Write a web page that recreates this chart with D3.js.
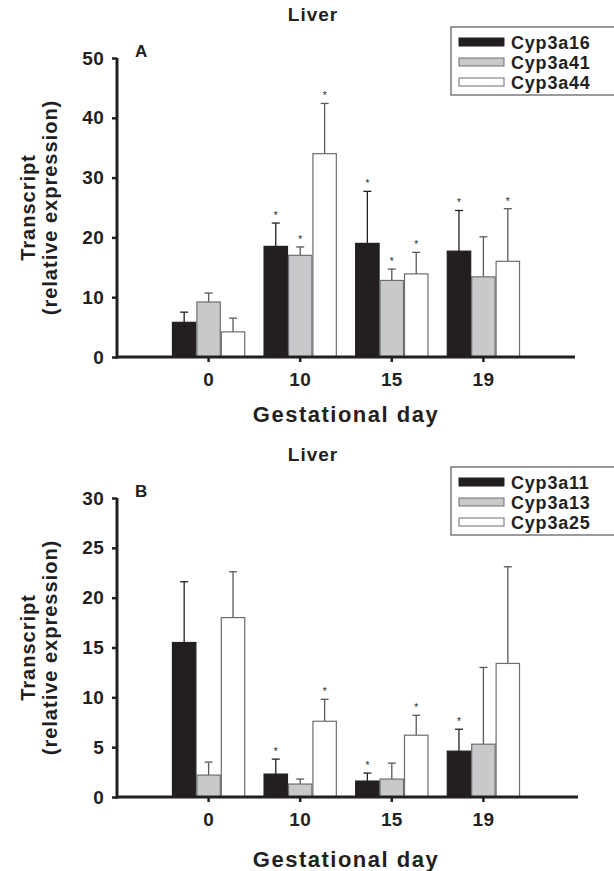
<!DOCTYPE html>
<html lang="en">
<head>
<meta charset="UTF-8">
<title>Liver</title>
<script src="https://d3js.org/d3.v7.min.js"></script>
<style>
  body { margin: 0; background: #fff; }
  text { font-family: "Liberation Sans", Arial, sans-serif; font-weight: bold; fill: #231f20; }
</style>
</head>
<body>
<div id="chart"></div>
<script>
var days = ["0", "10", "15", "19"];

// panel A
var seriesA = ["Cyp3a16", "Cyp3a41", "Cyp3a44"];
var valuesA = [[5.8, 18.5, 19.0, 17.7], [9.2, 17.0, 12.8, 13.4], [4.2, 34.0, 13.9, 16.0]];
var errTopA = [[7.5, 22.4, 27.7, 24.5], [10.7, 18.4, 14.7, 20.1], [6.5, 42.4, 17.5, 24.8]];
var starsA = [[0, 1, 1, 1], [0, 1, 1, 0], [0, 1, 1, 1]];
var ticksA = [0, 10, 20, 30, 40, 50];

// panel B
var seriesB = ["Cyp3a11", "Cyp3a13", "Cyp3a25"];
var valuesB = [[15.5, 2.3, 1.6, 4.6], [2.2, 1.3, 1.8, 5.3], [18.0, 7.6, 6.2, 13.4]];
var errTopB = [[21.6, 3.8, 2.4, 6.8], [3.5, 1.8, 3.4, 13.0], [22.6, 9.8, 8.2, 23.1]];
var starsB = [[0, 1, 1, 1], [0, 0, 0, 0], [0, 1, 1, 0]];
var ticksB = [0, 5, 10, 15, 20, 25, 30];

var w = 614, h = 871;
var fills = ["#231f20", "#c8c9cb", "#ffffff"];
var outlines = ["#231f20", "#6d6e70", "#6d6e70"];

var svg = d3.select("#chart").append("svg")
    .attr("width", w)
    .attr("height", h);

panel({ top: 0, letter: "A", series: seriesA, values: valuesA, err: errTopA, stars: starsA,
        ticks: ticksA, max: 50, y0: 357, y1: 58, right: 575, xt: 65 });
panel({ top: 440, letter: "B", series: seriesB, values: valuesB, err: errTopB, stars: starsB,
        ticks: ticksB, max: 30, y0: 797, y1: 498, right: 578, xt: 70 });

function panel(o) {
    var g = svg.append("g");
    var left = 117, right = o.right;

    var x = d3.scaleBand().domain(days).range([left, 575])
        .paddingInner(0.2).paddingOuter(0.6);
    var xs = d3.scaleBand().domain(o.series).range([0, x.bandwidth()]);
    var y = d3.scaleLinear().domain([0, o.max]).range([o.y0, o.y1]);

    // title
    g.append("text").attr("x", 313).attr("y", o.top + 21)
        .attr("text-anchor", "middle").style("font-size", "19px")
        .style("letter-spacing", "1px").text("Liver");
    g.append("text").attr("x", 135).attr("y", (o.y1 - 1))
        .style("font-size", "17px").text(o.letter);

    // bars
    o.series.forEach(function(s, si) {
        var rows = days.map(function(d, i) {
            return { day: d, v: o.values[si][i], e: o.err[si][i], star: o.stars[si][i] };
        });
        var sg = g.append("g");
        var cx = function(d) { return x(d.day) + xs(s) + xs.bandwidth() / 2; };
        var ec = si == 0 ? "#231f20" : "#58595b";
        // error bars
        sg.selectAll("line.err").data(rows).enter().append("line")
            .attr("x1", cx).attr("x2", cx)
            .attr("y1", function(d) { return y(d.v); })
            .attr("y2", function(d) { return y(d.e); })
            .attr("stroke", ec).attr("stroke-width", 1.3);
        sg.selectAll("line.cap").data(rows).enter().append("line")
            .attr("x1", function(d) { return cx(d) - 4; })
            .attr("x2", function(d) { return cx(d) + 4; })
            .attr("y1", function(d) { return y(d.e); })
            .attr("y2", function(d) { return y(d.e); })
            .attr("stroke", ec).attr("stroke-width", 1.3);
        sg.selectAll("rect").data(rows).enter().append("rect")
            .attr("x", function(d) { return x(d.day) + xs(s) + 0.5; })
            .attr("y", function(d) { return y(d.v); })
            .attr("width", xs.bandwidth() - 1)
            .attr("height", function(d) { return o.y0 - y(d.v); })
            .attr("fill", fills[si])
            .attr("stroke", outlines[si]).attr("stroke-width", 1.2);
        sg.selectAll("text").data(rows.filter(function(d) { return d.star; })).enter().append("text")
            .attr("x", cx)
            .attr("y", function(d) { return y(d.e) - 4; })
            .attr("text-anchor", "middle")
            .style("font-size", "10px").style("font-weight", "normal")
            .style("fill", "#231f20")
            .text("*");
    });

    // axes
    var ya = g.append("g").attr("transform", "translate(" + left + ",0)")
        .call(d3.axisLeft(y).tickValues(o.ticks).tickSize(5).tickPadding(8));
    var xa = g.append("g").attr("transform", "translate(0," + o.y0 + ")")
        .call(d3.axisBottom(x).tickSize(5).tickPadding(11));
    [ya, xa].forEach(function(a) {
        a.select(".domain").remove();
        a.selectAll("line").attr("stroke", "#231f20").attr("stroke-width", 2.5);
        a.selectAll("text").style("font-size", "19px").attr("fill", "#231f20")
            .style("letter-spacing", "0.3px");
    });
    xa.selectAll("text").attr("dy", "0.71em");
    g.append("line").attr("x1", left).attr("x2", left).attr("y1", o.y1).attr("y2", o.y0 + 1.5)
        .attr("stroke", "#231f20").attr("stroke-width", 3);
    g.append("line").attr("x1", left).attr("x2", right).attr("y1", o.y0).attr("y2", o.y0)
        .attr("stroke", "#231f20").attr("stroke-width", 3);

    // axis titles
    g.append("text").attr("x", 346).attr("y", o.y0 + o.xt)
        .attr("text-anchor", "middle").style("font-size", "22px")
        .style("letter-spacing", "1.5px").text("Gestational day");
    var mid = (o.y0 + o.y1) / 2;
    g.append("text").attr("transform", "translate(35," + mid + ") rotate(-90)")
        .attr("text-anchor", "middle").style("font-size", "20px")
        .style("letter-spacing", "1px").text("Transcript");
    g.append("text").attr("transform", "translate(57," + mid + ") rotate(-90)")
        .attr("text-anchor", "middle").style("font-size", "20px")
        .style("letter-spacing", "1px").text("(relative expression)");

    // legend
    var lg = g.append("g").attr("transform", "translate(451," + (o.top + 27) + ")");
    lg.append("rect").attr("x", 0).attr("y", 0).attr("width", 170).attr("height", 68)
        .attr("fill", "none").attr("stroke", "#58595b").attr("stroke-width", 1.2);
    var items = lg.selectAll("g.item").data(o.series).enter().append("g")
        .attr("transform", function(d, i) { return "translate(0," + (15 + i * 20) + ")"; });
    items.append("rect").attr("x", 8).attr("y", -4).attr("width", 45).attr("height", 8)
        .attr("fill", function(d, i) { return fills[i]; })
        .attr("stroke", function(d, i) { return outlines[i]; }).attr("stroke-width", 1);
    items.append("text").attr("x", 60).attr("y", 6.5)
        .style("font-size", "18px").style("letter-spacing", "0.8px")
        .text(function(d) { return d; });
}
</script>
</body>
</html>
